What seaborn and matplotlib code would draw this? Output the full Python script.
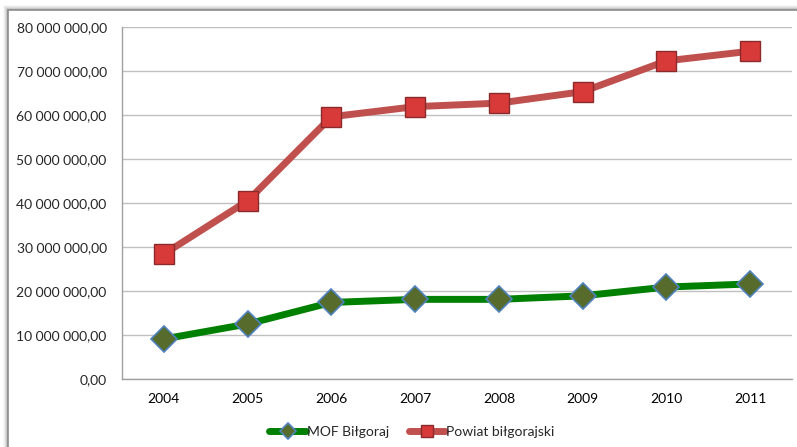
import pandas as pd
import seaborn as sns
import matplotlib.pyplot as plt
from matplotlib.patches import Rectangle
from matplotlib.ticker import FuncFormatter, FixedLocator

years = ['2004', '2005', '2006', '2007', '2008', '2009', '2010', '2011']
mof = [9.1e6, 12.5e6, 17.4e6, 18.1e6, 18.1e6, 18.9e6, 20.9e6, 21.6e6]
powiat = [28.4e6, 40.5e6, 59.6e6, 61.9e6, 62.7e6, 65.3e6, 72.3e6, 74.5e6]

sns.set_style('white')
plt.rcParams['font.family'] = ['Lato', 'DejaVu Sans']

df = pd.DataFrame({'idx': range(len(years)), 'mof': mof, 'powiat': powiat})

fig = plt.figure(figsize=(7.97, 4.47), dpi=100)
fig.patch.set_facecolor('white')

# frame shadow, like the Excel chart border
for i, a in enumerate([0.05, 0.08, 0.12, 0.18, 0.26]):
    fig.patches.append(Rectangle(((3 + i) / 797, -0.1), 1.2, (447 - 5 - i) / 447 + 0.1,
                                 transform=fig.transFigure, facecolor='#707070',
                                 alpha=a, edgecolor='none', zorder=0))
fig.patches.append(Rectangle((8 / 797, -0.1), 1.2, (447 - 10) / 447 + 0.1,
                             transform=fig.transFigure, facecolor='white',
                             edgecolor='#8c8c8c', linewidth=1.2, zorder=1))

ax = fig.add_axes([122 / 797, 1 - 379 / 447, 670 / 797, 352 / 447])
ax.set_facecolor('none')
ax.set_zorder(2)

sns.lineplot(data=df, x='idx', y='mof', ax=ax, color='#008000', linewidth=5,
             marker='D', markersize=13, markerfacecolor='#566b2c',
             markeredgecolor='#4f81bd', markeredgewidth=1.2, label='MOF Biłgoraj')
sns.lineplot(data=df, x='idx', y='powiat', ax=ax, color='#c0504d', linewidth=5,
             marker='s', markersize=15, markerfacecolor='#d83a3a',
             markeredgecolor='#8b2a2a', markeredgewidth=1.0, label='Powiat biłgorajski')

ax.set_xlim(-0.5, len(years) - 0.5)
ax.set_ylim(0, 80e6)
ax.set_yticks(range(0, 80000001, 10000000))
ax.yaxis.set_major_formatter(FuncFormatter(
    lambda v, p: '{:,.2f}'.format(v).replace(',', ' ').replace('.', ',')))
ax.set_xticks(range(len(years)))
ax.set_xticklabels(years)
ax.xaxis.set_minor_locator(FixedLocator([i - 0.5 for i in range(len(years) + 1)]))
ax.tick_params(axis='x', which='major', length=0, pad=10, labelsize=10, colors='#000000')
ax.tick_params(axis='x', which='minor', length=5, color='#a0a0a0', direction='out')
ax.tick_params(axis='y', length=5, color='#a0a0a0', direction='out', labelsize=10, pad=6)
ax.set_xlabel('')
ax.set_ylabel('')

ax.grid(axis='y', color='#c0c0c0', linewidth=1)
ax.set_axisbelow(True)
for s in ['top', 'right']:
    ax.spines[s].set_visible(False)
for s in ['left', 'bottom']:
    ax.spines[s].set_color('#a0a0a0')
    ax.spines[s].set_linewidth(1)

ax.legend_.remove()
h, l = ax.get_legend_handles_labels()
fig.legend(h, l, loc='center', bbox_to_anchor=(412 / 797, 1 - 432 / 447), ncol=2,
           frameon=False, fontsize=10, handlelength=2.6, handletextpad=0.1,
           columnspacing=1.4, markerscale=0.6)

fig.savefig('out.png', dpi=100)
